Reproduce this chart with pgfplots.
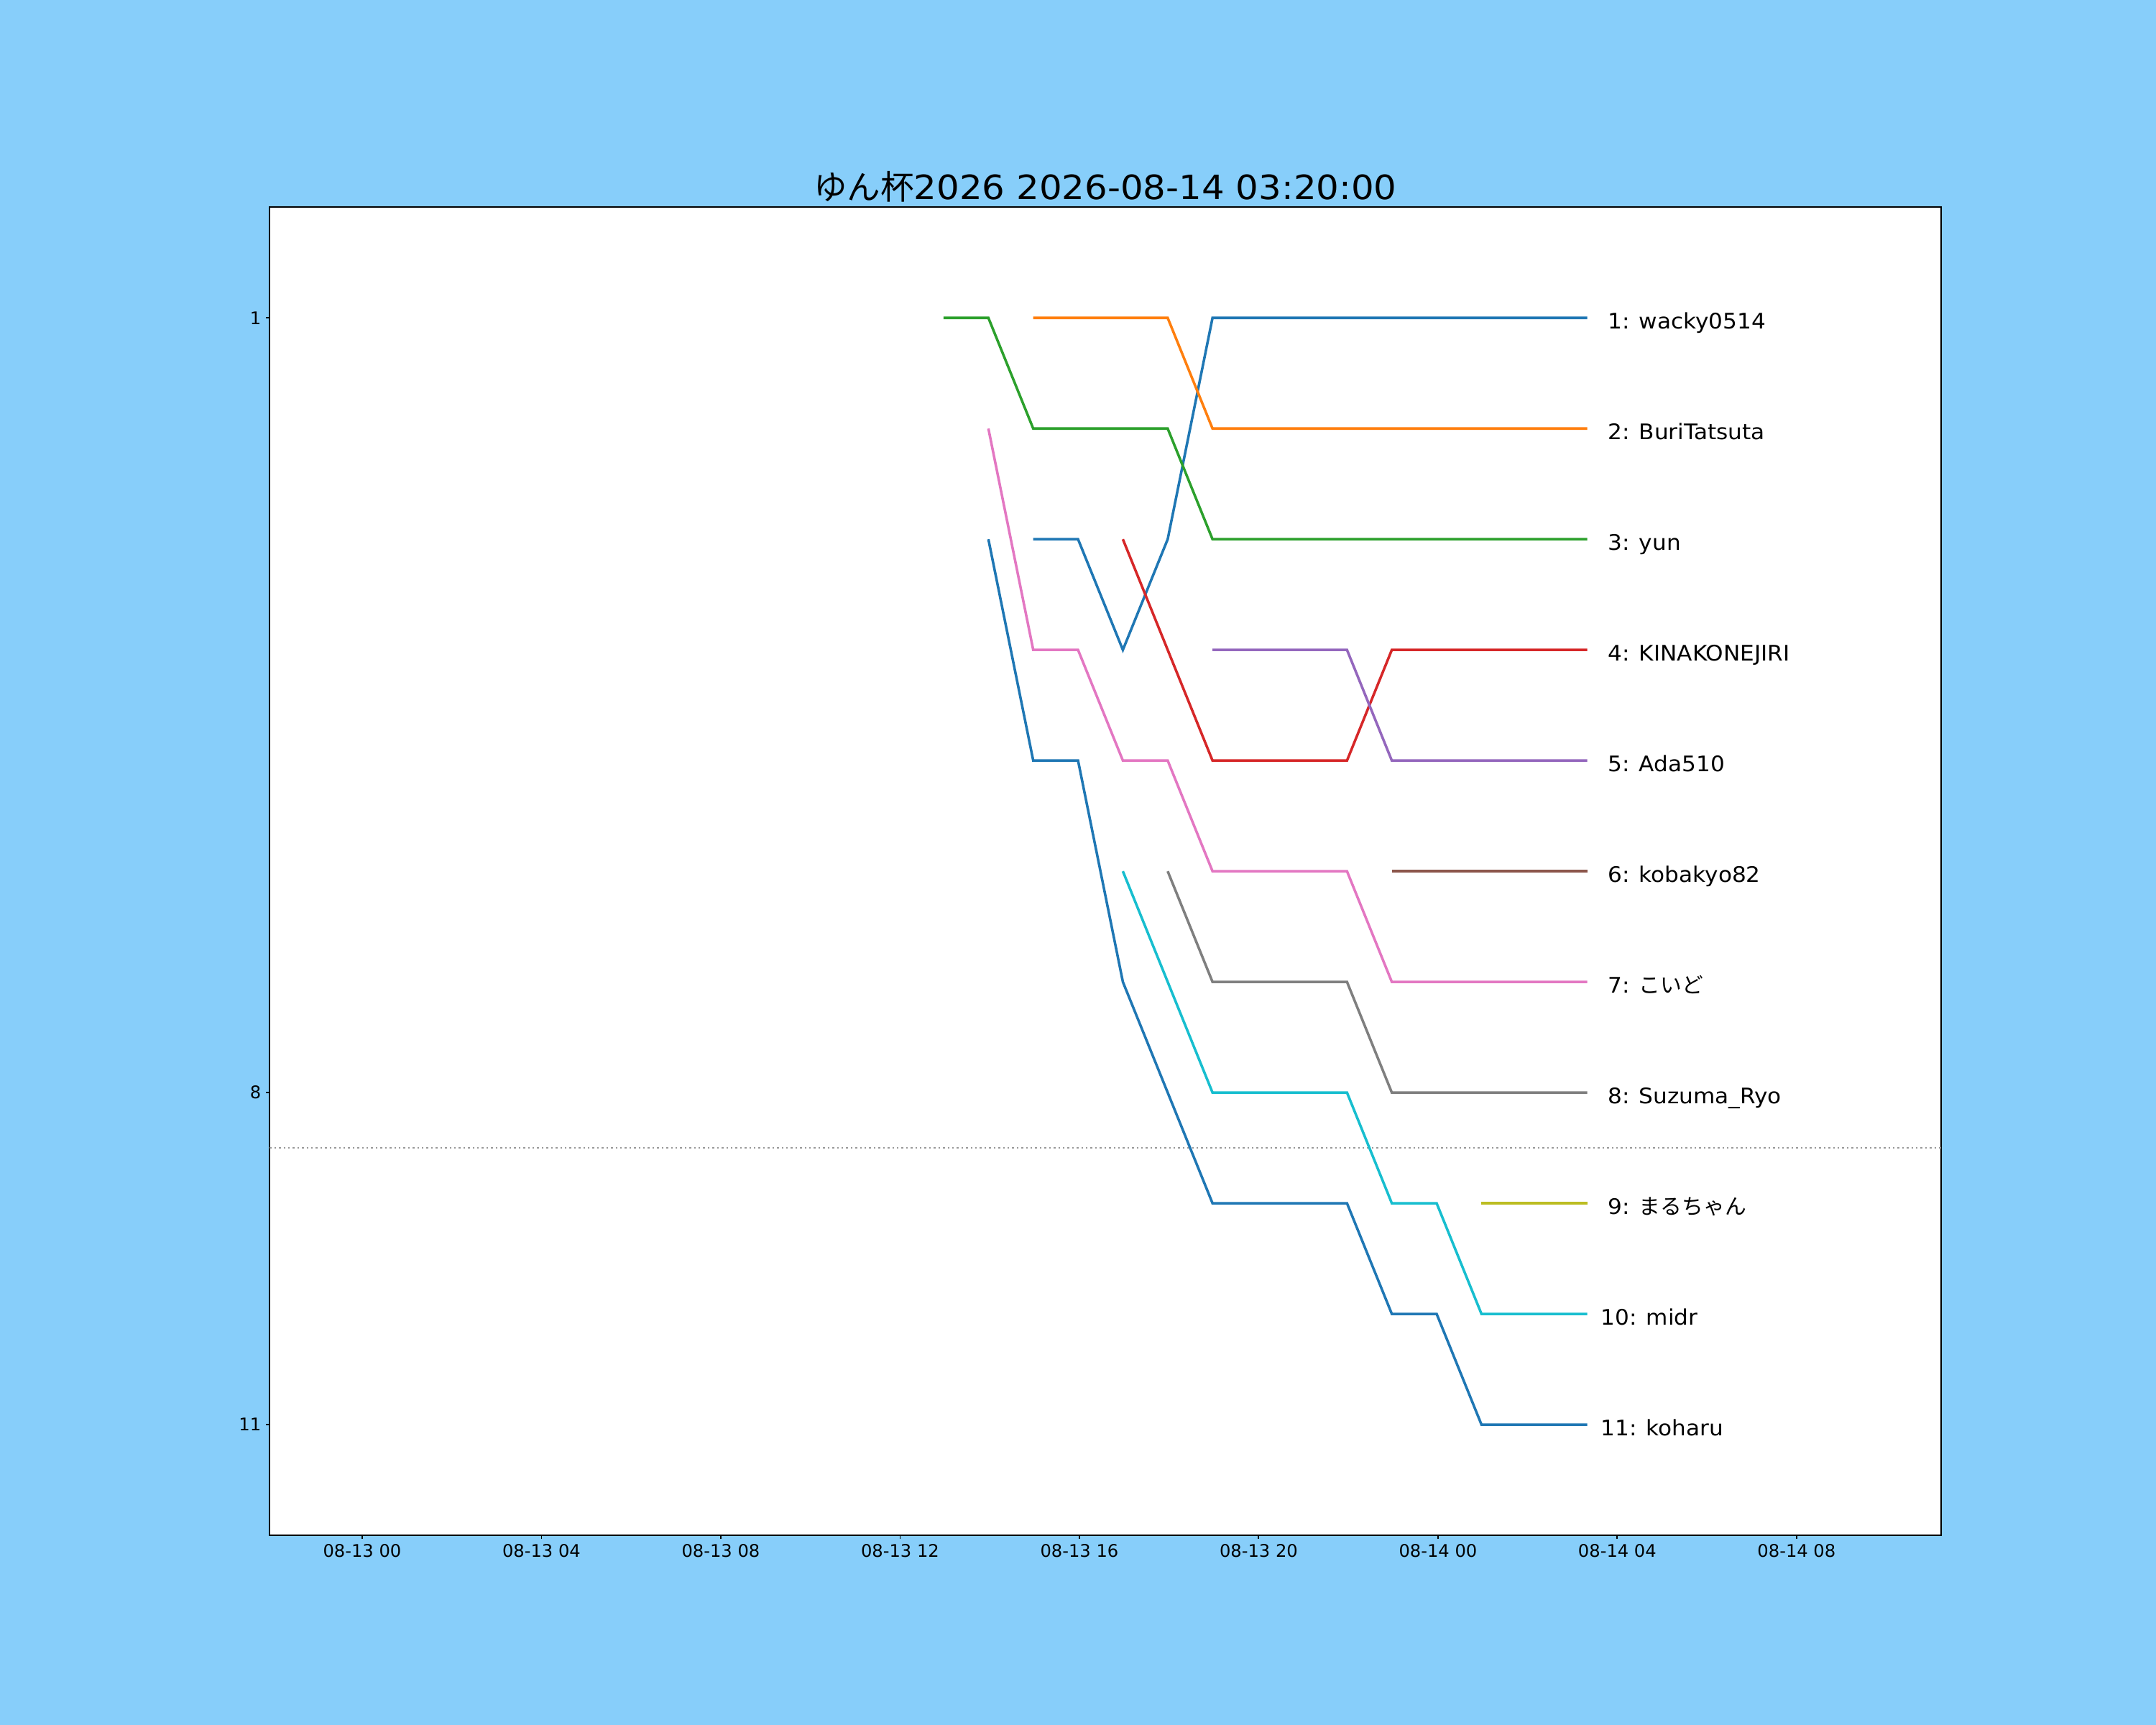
\documentclass[border=0pt]{standalone}
\usepackage{fontspec}
\setmainfont{DejaVu Sans}
\newfontfamily\jp{Noto Sans CJK JP}
\newfontfamily\labfont[FakeStretch=1.045]{DejaVu Sans}
\newfontfamily\titfont[FakeStretch=1.07]{DejaVu Sans}
\usepackage{pgfplots}
\pgfplotsset{compat=1.18}
\definecolor{bg}{RGB}{135,206,250}
\definecolor{c0}{HTML}{1F77B4}
\definecolor{c1}{HTML}{FF7F0E}
\definecolor{c2}{HTML}{2CA02C}
\definecolor{c3}{HTML}{D62728}
\definecolor{c4}{HTML}{9467BD}
\definecolor{c5}{HTML}{8C564B}
\definecolor{c6}{HTML}{E377C2}
\definecolor{c7}{HTML}{7F7F7F}
\definecolor{c8}{HTML}{BCBD22}
\definecolor{c9}{HTML}{17BECF}
\newcommand\lab{\labfont\fontsize{7.15bp}{8.6bp}\selectfont}
\begin{document}
\begin{tikzpicture}
\fill[bg] (0,0) rectangle (720bp,576bp);
\begin{axis}[
  at={(90.07bp,63.36bp)}, anchor=south west,
  scale only axis, width=558.1bp, height=443.45bp,
  xmin=-2.063, xmax=35.22, ymin=0, ymax=12, y dir=reverse,
  axis background/.style={fill=white},
  axis line style={line width=0.45bp},
  xtick={0,4,...,32},
  xticklabels={08-13 00,08-13 04,08-13 08,08-13 12,08-13 16,08-13 20,08-14 00,08-14 04,08-14 08},
  ytick={1,8,11},
  tick align=outside, tick pos=left, major tick length=1.3bp,
  every tick/.style={black, line width=0.45bp},
  tick label style={font=\fontsize{5.81bp}{7bp}\selectfont, inner sep=0pt},
  /pgf/number format/assume math mode=true,
  xticklabel style={yshift=-1.4bp},
  yticklabel style={xshift=-1.4bp},
  no markers,
  every axis plot/.append style={line width=0.85bp},
  clip=false,
]
\addplot[gray!80, line width=0.36bp, dash pattern=on 0.58bp off 0.96bp] coordinates {(-2.063,8.5) (35.22,8.5)};
% wacky0514
\addplot[c0] coordinates {(14.97,3)(15.97,3)(16.97,4)(17.97,3)(18.97,1)(19.97,1)(20.97,1)(21.97,1)(22.97,1)(23.97,1)(24.97,1)(25.97,1)(26.97,1)(27.33,1)};
% BuriTatsuta
\addplot[c1] coordinates {(14.97,1)(15.97,1)(16.97,1)(17.97,1)(18.97,2)(19.97,2)(20.97,2)(21.97,2)(22.97,2)(23.97,2)(24.97,2)(25.97,2)(26.97,2)(27.33,2)};
% yun
\addplot[c2] coordinates {(12.97,1)(13.97,1)(14.97,2)(15.97,2)(16.97,2)(17.97,2)(18.97,3)(19.97,3)(20.97,3)(21.97,3)(22.97,3)(23.97,3)(24.97,3)(25.97,3)(26.97,3)(27.33,3)};
% KINAKONEJIRI
\addplot[c3] coordinates {(16.97,3)(17.97,4)(18.97,5)(19.97,5)(20.97,5)(21.97,5)(22.97,4)(23.97,4)(24.97,4)(25.97,4)(26.97,4)(27.33,4)};
% Ada510
\addplot[c4] coordinates {(18.97,4)(19.97,4)(20.97,4)(21.97,4)(22.97,5)(23.97,5)(24.97,5)(25.97,5)(26.97,5)(27.33,5)};
% kobakyo82
\addplot[c5] coordinates {(22.97,6)(23.97,6)(24.97,6)(25.97,6)(26.97,6)(27.33,6)};
% koido
\addplot[c6] coordinates {(13.97,2)(14.97,4)(15.97,4)(16.97,5)(17.97,5)(18.97,6)(19.97,6)(20.97,6)(21.97,6)(22.97,7)(23.97,7)(24.97,7)(25.97,7)(26.97,7)(27.33,7)};
% Suzuma_Ryo
\addplot[c7] coordinates {(17.97,6)(18.97,7)(19.97,7)(20.97,7)(21.97,7)(22.97,8)(23.97,8)(24.97,8)(25.97,8)(26.97,8)(27.33,8)};
% maruchan
\addplot[c8] coordinates {(24.97,9)(25.97,9)(26.97,9)(27.33,9)};
% midr
\addplot[c9] coordinates {(16.97,6)(17.97,7)(18.97,8)(19.97,8)(20.97,8)(21.97,8)(22.97,9)(23.97,9)(24.97,10)(25.97,10)(26.97,10)(27.33,10)};
% koharu
\addplot[c0] coordinates {(13.97,3)(14.97,5)(15.97,5)(16.97,7)(17.97,8)(18.97,9)(19.97,9)(20.97,9)(21.97,9)(22.97,10)(23.97,10)(24.97,11)(25.97,11)(26.97,11)(27.33,11)};
\begin{scope}[every node/.style={anchor=base west, inner sep=0pt, font=\lab}]
\node at (axis cs:27.62,1.102) {\hspace*{0.33em}1: wacky0514};
\node at (axis cs:27.62,2.102) {\hspace*{0.33em}2: BuriTatsuta};
\node at (axis cs:27.62,3.102) {\hspace*{0.33em}3: yun};
\node at (axis cs:27.62,4.102) {\hspace*{0.33em}4: KINAKONEJIRI};
\node at (axis cs:27.62,5.102) {\hspace*{0.33em}5: Ada510};
\node at (axis cs:27.62,6.102) {\hspace*{0.33em}6: kobakyo82};
\node at (axis cs:27.62,7.102) {\hspace*{0.33em}7: {\jp\fontsize{7.15bp}{8.6bp}\selectfont こいど}};
\node at (axis cs:27.62,8.102) {\hspace*{0.33em}8: Suzuma\_Ryo};
\node at (axis cs:27.62,9.102) {\hspace*{0.33em}9: {\jp\fontsize{7.15bp}{8.6bp}\selectfont まるちゃん}};
\node at (axis cs:27.62,10.102) {10: midr};
\node at (axis cs:27.62,11.102) {11: koharu};
\end{scope}
\end{axis}
\node[anchor=base, inner sep=0pt, font=\titfont\fontsize{11.18bp}{13.4bp}\selectfont] at (369.1bp,509.4bp) {{\jp ゆん杯}2026 2026-08-14 03:20:00};
\end{tikzpicture}
\end{document}
